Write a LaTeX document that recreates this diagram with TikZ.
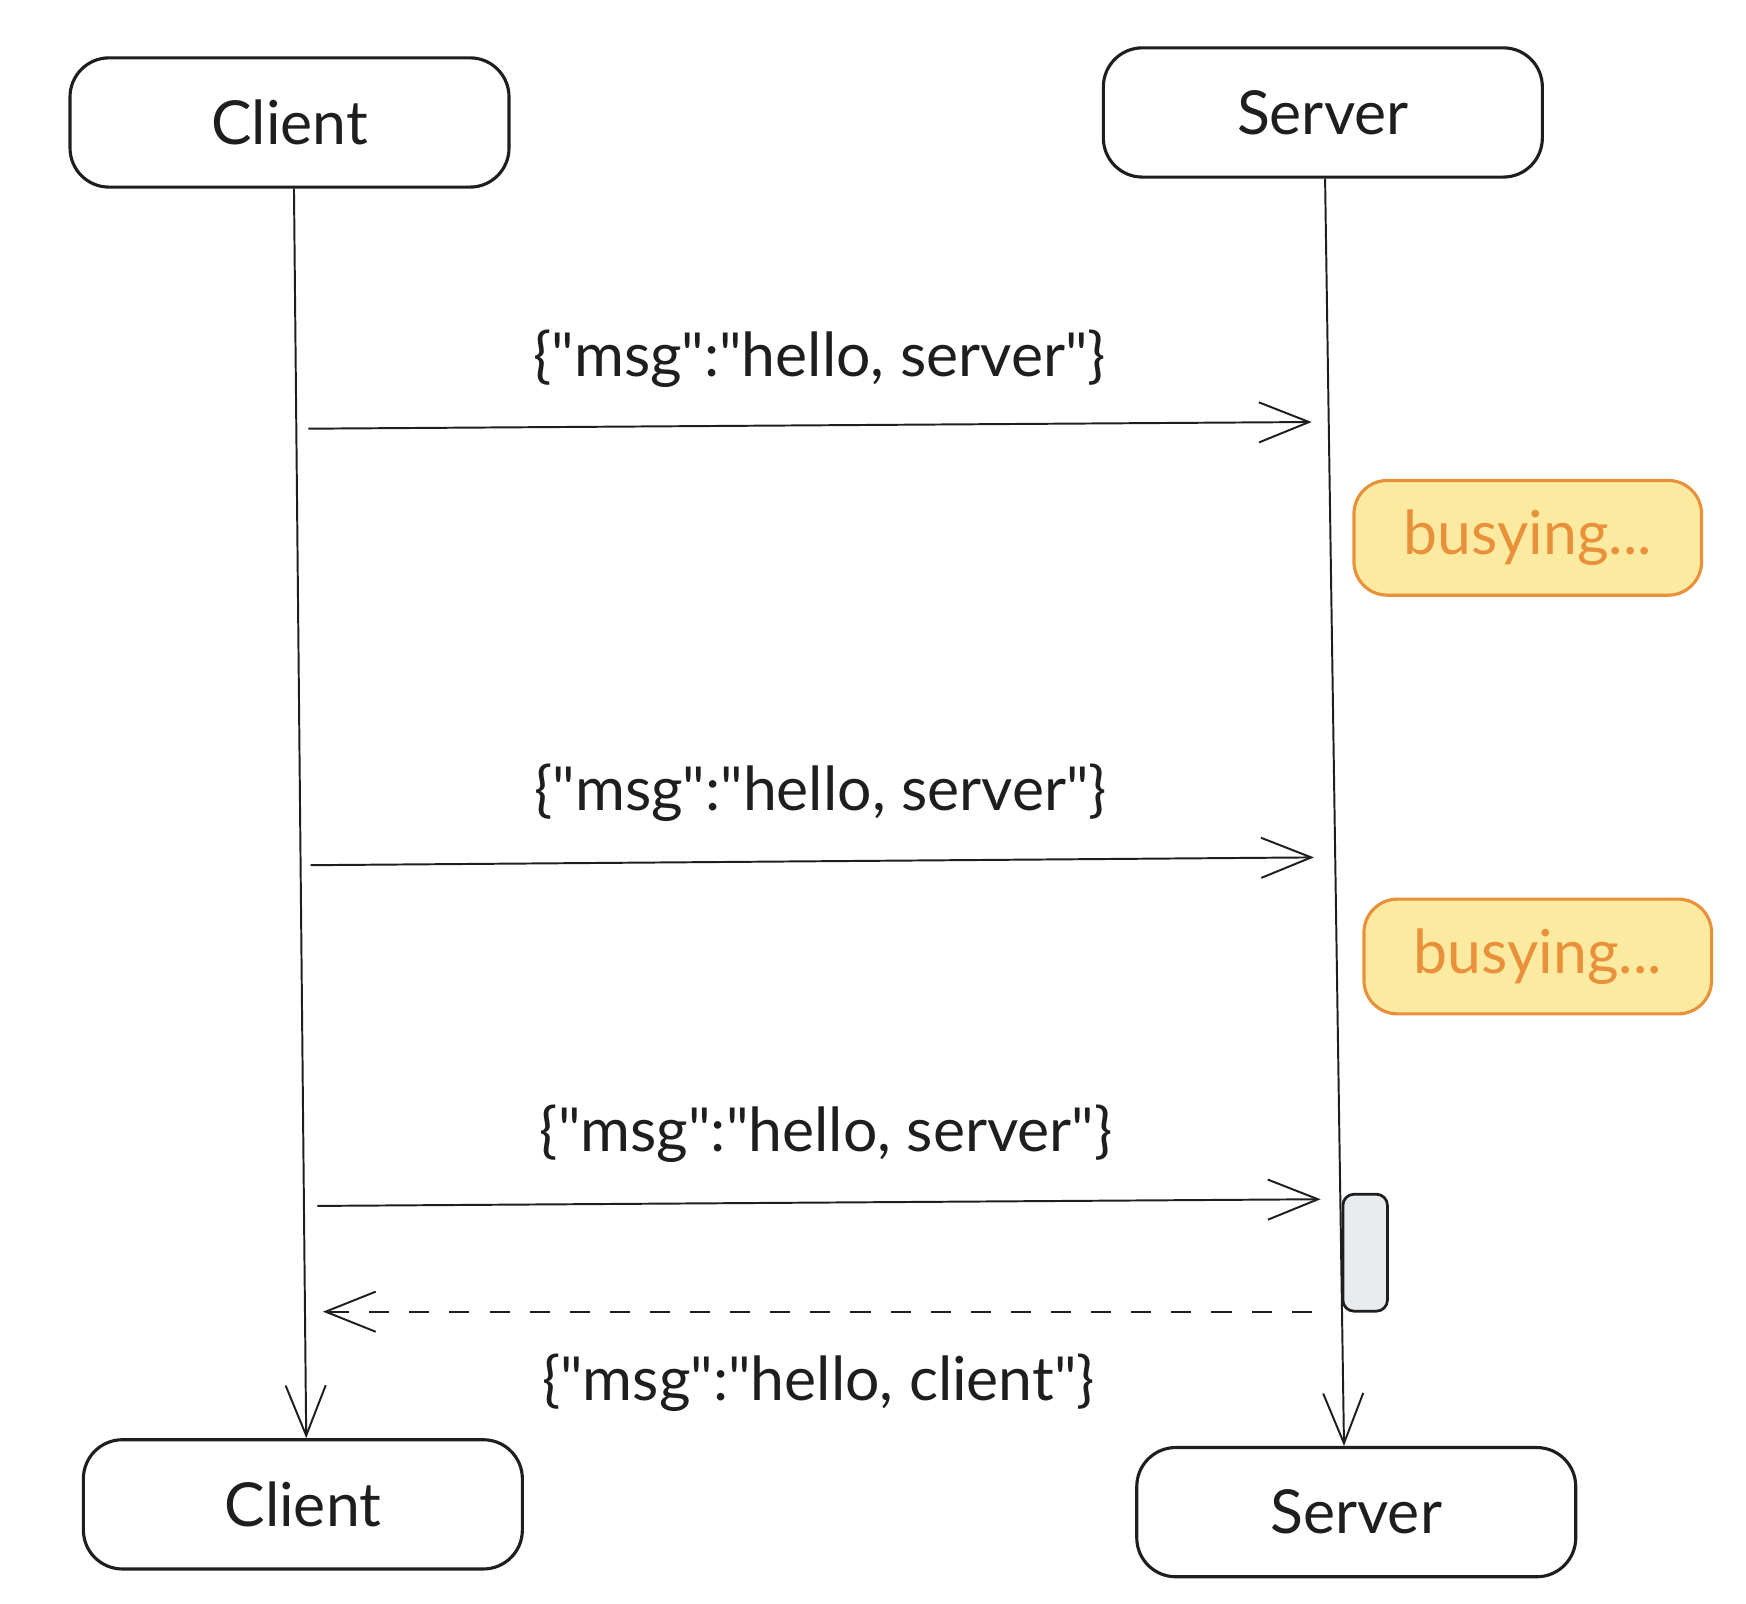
\documentclass[tikz,border=0pt]{standalone}
\usepackage{fontspec}
\setmainfont{Lato}[Ligatures=TeXOff]
\usepackage{tikz}
\usetikzlibrary{arrows.meta}
\definecolor{ink}{HTML}{1E1E1E}
\definecolor{busyline}{HTML}{E8913A}
\definecolor{busyfill}{HTML}{FCEAA0}
\definecolor{workfill}{HTML}{E9ECEF}
\newcommand{\lblfont}{\fontsize{15.5}{18}\selectfont}

\begin{document}
\begin{tikzpicture}[
x=0.01cm, y=-0.01cm,
actor/.style={
	draw=ink, line width=0.8pt, rounded corners=0.35cm,
	minimum width=3.94cm, minimum height=1.16cm,
	text=ink, font=\lblfont
},
busy/.style={
	draw=busyline, fill=busyfill, line width=0.8pt, rounded corners=0.3cm,
	minimum width=3.12cm, minimum height=1.03cm,
	text=busyline, font=\lblfont
},
work/.style={
	draw=ink, fill=workfill, line width=0.7pt, rounded corners=0.1cm,
	minimum width=0.40cm, minimum height=1.05cm, inner sep=0pt
},
lbl/.style={text=ink, font=\lblfont},
msg/.style={
	draw=ink, line width=0.5pt,
	-{Straight Barb[length=0.45cm, width=0.36cm, line width=0.5pt]}
},
reply/.style={msg, dash pattern=on 0.18cm off 0.18cm}
]
\useasboundingbox (0,0) rectangle (1568,1440);

% actors
\node[actor] (c1) at (260,110) {Client};
\node[actor] (s1) at (1188,101) {Server};
\node[actor] (c2) at (272,1351) {Client};
\node[actor] (s2) at (1218,1358) {Server};

% lifelines
\draw[msg] ([xshift=0.04cm]c1.south) -- ([xshift=0.03cm]c2.north);
\draw[msg] ([xshift=0.02cm]s1.south) -- ([xshift=-0.11cm]s2.north);

% requests
\coordinate (a1) at (277,385);
\coordinate (b1) at (1178,379);
\coordinate (a2) at (279,777);
\coordinate (b2) at (1180,770);
\coordinate (a3) at (285,1083);
\coordinate (b3) at (1186,1077);
\foreach \i in {1,2,3}
{
	\draw[msg] (a\i) -- (b\i);
}
\node[lbl] (l1) at (736,322) {\{"msg":"hello, server"\}};
\node[lbl] (l2) at (737,712) {\{"msg":"hello, server"\}};
\node[lbl] (l3) at (742,1018) {\{"msg":"hello, server"\}};

% server busy
\node[busy] (w1) at (1372,483) {busying...};
\node[busy] (w2) at (1381,859) {busying...};
\node[work] (act) at (1226,1125) {};

% response
\coordinate (r1) at (1178,1178);
\coordinate (r2) at (290,1178);
\draw[reply] (r1) -- (r2);
\node[lbl] (l4) at (735,1242) {\{"msg":"hello, client"\}};
\end{tikzpicture}
\end{document}
